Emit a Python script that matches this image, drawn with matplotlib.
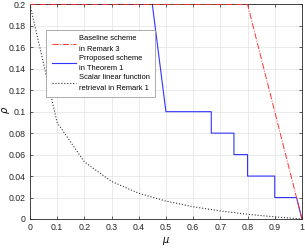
import matplotlib
matplotlib.use("Agg")
import matplotlib.pyplot as plt

plt.rcParams["font.family"] = ["Liberation Sans", "DejaVu Sans"]

# Baseline scheme in Remark 3
mu_base = [0.0, 0.8, 1.0]
rho_base = [0.2, 0.2, 0.0]

# Proposed scheme in Theorem 1
mu_prop = [0.0, 0.45, 0.5, 0.6667, 0.6667, 0.75, 0.75, 0.8, 0.8, 0.9, 0.9, 0.98, 1.0]
rho_prop = [0.2, 0.2, 0.1, 0.1, 0.08, 0.08, 0.06, 0.06, 0.04, 0.04, 0.02, 0.02, 0.0]

# Scalar linear function retrieval in Remark 1
mu_scalar = [0.0, 0.1, 0.2, 0.3, 0.4, 0.5, 0.6, 0.7, 0.8, 0.9, 1.0]
rho_scalar = [0.2, 0.09, 0.0533, 0.035, 0.024, 0.0167, 0.0114, 0.0075, 0.0044, 0.002, 0.0]

xticks = [0, 0.1, 0.2, 0.3, 0.4, 0.5, 0.6, 0.7, 0.8, 0.9, 1]
xticklabels = ["0", "0.1", "0.2", "0.3", "0.4", "0.5", "0.6", "0.7", "0.8", "0.9", "1"]
yticks = [0, 0.02, 0.04, 0.06, 0.08, 0.1, 0.12, 0.14, 0.16, 0.18, 0.2]
yticklabels = ["0", "0.02", "0.04", "0.06", "0.08", "0.1", "0.12", "0.14", "0.16", "0.18", "0.2"]

fig = plt.figure(figsize=(3.05, 2.49), dpi=100)
ax = fig.add_axes([0.098, 0.1205, 0.892, 0.862])

ax.plot(mu_prop, rho_prop, color="#3333ff", linestyle="-", linewidth=0.8,
        label="Prroposed scheme\nin Theorem 1", zorder=2)
ax.plot(mu_base, rho_base, color="#ff3333", linestyle="-.", linewidth=0.7,
        label="Baseline scheme\nin Remark 3", zorder=3)
ax.plot(mu_scalar, rho_scalar, color="#333333", linestyle=":", linewidth=0.8,
        label="Scalar linear function\nretrieval in Remark 1", zorder=2)

ax.set_xlim(0, 1)
ax.set_ylim(0, 0.2)
ax.set_xticks(xticks)
ax.set_xticklabels(xticklabels)
ax.set_yticks(yticks)
ax.set_yticklabels(yticklabels)
ax.tick_params(axis="both", which="both", direction="in", labelsize=6.3, length=2.5,
               width=0.5, top=True, right=True, colors="#262626", pad=3)
ax.grid(True, color="#e6e6e6", linewidth=0.6)
ax.set_axisbelow(True)
for s in ax.spines.values():
    s.set_linewidth(0.6)
    s.set_color("#262626")

ax.set_xlabel(r"$\mu$", fontsize=7, labelpad=2)
ax.set_ylabel(r"$\rho$", fontsize=7)
ax.yaxis.set_label_coords(-0.064, 0.51)

handles, labels = ax.get_legend_handles_labels()
order = [1, 0, 2]
leg = ax.legend([handles[i] for i in order], [labels[i] for i in order],
                loc="upper left", bbox_to_anchor=(0.061, 0.88), fontsize=5.4,
                frameon=True, fancybox=False, edgecolor="#8c8c8c", framealpha=1,
                handlelength=3.2, handletextpad=0.45, borderpad=0.7,
                labelspacing=0.3, borderaxespad=0)
for t in leg.get_texts():
    t.set_linespacing(1.65)
leg.get_frame().set_linewidth(0.5)

fig.savefig("out.png", dpi=100)
